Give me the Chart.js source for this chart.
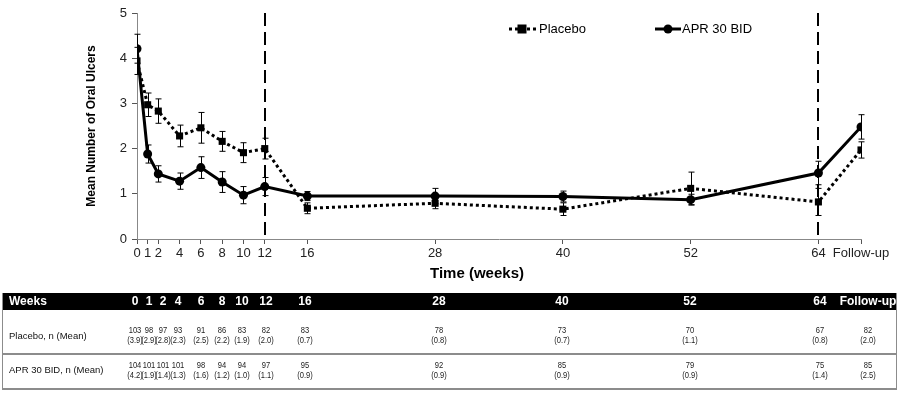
<!DOCTYPE html>
<html>
<head>
<meta charset="utf-8">
<script src="https://cdn.jsdelivr.net/npm/chart.js@4.4.1/dist/chart.umd.min.js"></script>
<style>
  html, body { margin: 0; padding: 0; background: #fff; }
  #wrap { width: 905px; height: 396px; }
</style>
</head>
<body>
<div id="wrap"><canvas id="c" width="905" height="396"></canvas></div>
<script>
'use strict';

// ── Data ───────────────────────────────────────────────────────
const WEEKS         = [0, 1, 2, 4, 6, 8, 10, 12, 16, 28, 40, 52, 64, 68];
const WEEK_LABELS   = ['0','1','2','4','6','8','10','12','16','28','40','52','64','Follow-up'];
const FOLLOW_UP_AT  = 68;
const PHASE_MARKS   = [12, 64];

const PLACEBO_MEAN  = [3.94, 2.97, 2.83, 2.28, 2.46, 2.16, 1.91, 2.00, 0.68, 0.79, 0.66, 1.12, 0.82, 1.97];
const PLACEBO_ERR   = [0.30, 0.26, 0.27, 0.24, 0.34, 0.22, 0.22, 0.23, 0.12, 0.12, 0.14, 0.36, 0.30, 0.18];
const APR_MEAN      = [4.21, 1.88, 1.44, 1.28, 1.58, 1.26, 0.97, 1.16, 0.95, 0.95, 0.94, 0.87, 1.46, 2.48];
const APR_ERR       = [0.32, 0.20, 0.18, 0.18, 0.24, 0.23, 0.19, 0.20, 0.10, 0.17, 0.12, 0.12, 0.26, 0.27];

const PLACEBO_N     = [103, 98, 97, 93, 91, 86, 83, 82, 83, 78, 73, 70, 67, 82];
const PLACEBO_TBL   = ['3.9','2.9','2.8','2.3','2.5','2.2','1.9','2.0','0.7','0.8','0.7','1.1','0.8','2.0'];
const APR_N         = [104, 101, 101, 101, 98, 94, 94, 97, 95, 92, 85, 79, 75, 85];
const APR_TBL       = ['4.2','1.9','1.4','1.3','1.6','1.2','1.0','1.1','0.9','0.9','0.9','0.9','1.4','2.5'];

const Y_TICKS       = [0, 1, 2, 3, 4, 5];

// table column centres (layout, px)
const TABLE_COL_X   = [135, 149, 163, 178, 201, 222, 242, 266, 305, 439, 562, 690, 820, 868];

const FONT = 'Arial, "Liberation Sans", sans-serif';

const toPoints = (ys) => ys.map((y, i) => ({ x: WEEKS[i], y }));

// narrow-looking text for the table cells
function narrowText(ctx, txt, x, y) {
  ctx.save();
  ctx.translate(x, y);
  ctx.scale(0.84, 1);
  ctx.fillText(txt, 0, 0);
  ctx.restore();
}

// ── Plugins ────────────────────────────────────────────────────
const phaseLines = {
  id: 'phaseLines',
  beforeDatasetsDraw(chart) {
    const { ctx, chartArea, scales: { x } } = chart;
    ctx.save();
    ctx.strokeStyle = '#000';
    ctx.lineWidth = 2;
    ctx.setLineDash([13, 6]);
    PHASE_MARKS.forEach(w => {
      const px = Math.round(x.getPixelForValue(w));
      ctx.beginPath();
      ctx.moveTo(px, chartArea.top);
      ctx.lineTo(px, chartArea.bottom);
      ctx.stroke();
    });
    ctx.restore();
  },
};

const errorBars = {
  id: 'errorBars',
  beforeDatasetsDraw(chart) {
    const { ctx, scales: { x, y } } = chart;
    ctx.save();
    ctx.strokeStyle = '#000';
    ctx.lineWidth = 1;
    ctx.setLineDash([]);
    chart.data.datasets.forEach(ds => {
      ds.data.forEach((p, i) => {
        const e = ds.errors[i];
        const px = Math.round(x.getPixelForValue(p.x)) + 0.5;
        const top = y.getPixelForValue(p.y + e);
        const bot = y.getPixelForValue(p.y - e);
        ctx.beginPath();
        ctx.moveTo(px, top); ctx.lineTo(px, bot);
        ctx.moveTo(px - 3, top); ctx.lineTo(px + 3, top);
        ctx.moveTo(px - 3, bot); ctx.lineTo(px + 3, bot);
        ctx.stroke();
      });
    });
    ctx.restore();
  },
};

const chartText = {
  id: 'chartText',
  afterDraw(chart) {
    const { ctx, chartArea } = chart;
    ctx.save();
    ctx.fillStyle = '#000';

    // axis titles
    ctx.font = `bold 15px ${FONT}`;
    ctx.textAlign = 'center';
    ctx.textBaseline = 'middle';
    ctx.fillText('Time (weeks)', 477, 274);

    ctx.save();
    ctx.translate(92, (chartArea.top + chartArea.bottom) / 2);
    ctx.rotate(-Math.PI / 2);
    ctx.font = `bold 12px ${FONT}`;
    ctx.fillText('Mean Number of Oral Ulcers', 0, 0);
    ctx.restore();

    // legend
    const ly = 29;
    ctx.lineWidth = 3;
    ctx.setLineDash([3, 3]);
    ctx.beginPath(); ctx.moveTo(509, ly); ctx.lineTo(536, ly); ctx.stroke();
    ctx.setLineDash([]);
    ctx.fillRect(522 - 4.5, ly - 4.5, 9, 9);
    ctx.beginPath(); ctx.moveTo(655, ly); ctx.lineTo(681, ly); ctx.stroke();
    ctx.beginPath(); ctx.arc(668, ly, 4.5, 0, Math.PI * 2); ctx.fill();
    ctx.font = `13px ${FONT}`;
    ctx.textAlign = 'left';
    ctx.fillText('Placebo', 539, ly);
    ctx.fillText('APR 30 BID', 682, ly);

    // table
    const L = 2, R = 897;
    ctx.fillRect(L, 293, R - L, 17);
    ctx.strokeStyle = '#8c8c8c';
    ctx.lineWidth = 2;
    ctx.beginPath();
    ctx.moveTo(L, 354); ctx.lineTo(R, 354);
    ctx.moveTo(L, 389); ctx.lineTo(R, 389);
    ctx.stroke();
    ctx.lineWidth = 1;
    ctx.beginPath();
    ctx.moveTo(L + 0.5, 293); ctx.lineTo(L + 0.5, 390);
    ctx.moveTo(R - 0.5, 293); ctx.lineTo(R - 0.5, 390);
    ctx.stroke();

    ctx.fillStyle = '#fff';
    ctx.font = `bold 12px ${FONT}`;
    ctx.fillText('Weeks', 9, 302);
    ctx.textAlign = 'center';
    WEEK_LABELS.forEach((lbl, i) => ctx.fillText(lbl, TABLE_COL_X[i], 302));

    ctx.fillStyle = '#111';
    ctx.textAlign = 'left';
    ctx.font = `9.5px ${FONT}`;
    ctx.fillText('Placebo, n (Mean)', 9, 336);
    ctx.fillText('APR 30 BID, n (Mean)', 9, 370);

    ctx.textAlign = 'center';
    ctx.fillStyle = '#222';
    ctx.font = `9px ${FONT}`;
    const rows = [[PLACEBO_N, PLACEBO_TBL, 331], [APR_N, APR_TBL, 366]];
    rows.forEach(([ns, ms, y0]) => {
      ns.forEach((n, i) => {
        narrowText(ctx, String(n), TABLE_COL_X[i], y0);
        narrowText(ctx, `(${ms[i]})`, TABLE_COL_X[i], y0 + 10);
      });
    });
    ctx.restore();
  },
};

// ── Chart ──────────────────────────────────────────────────────
new Chart(document.getElementById('c'), {
  type: 'line',
  data: {
    datasets: [
      {
        label: 'Placebo',
        data: toPoints(PLACEBO_MEAN),
        errors: PLACEBO_ERR,
        borderColor: '#000',
        borderWidth: 3,
        borderDash: [3, 3],
        pointStyle: 'rect',
        pointRadius: 5,
        pointBackgroundColor: '#000',
        pointBorderColor: '#000',
        pointBorderWidth: 0,
        tension: 0,
      },
      {
        label: 'APR 30 BID',
        data: toPoints(APR_MEAN),
        errors: APR_ERR,
        borderColor: '#000',
        borderWidth: 3,
        pointStyle: 'circle',
        pointRadius: 4.5,
        pointBackgroundColor: '#000',
        pointBorderColor: '#000',
        pointBorderWidth: 0,
        tension: 0,
      },
    ],
  },
  options: {
    responsive: false,
    animation: false,
    layout: { padding: { top: 13, right: 44, left: 0, bottom: 0 } },
    plugins: { legend: { display: false }, tooltip: { enabled: false } },
    scales: {
      x: {
        type: 'linear',
        min: 0, max: FOLLOW_UP_AT,
        afterBuildTicks: s => { s.ticks = WEEKS.map(v => ({ value: v })); },
        afterFit: s => { s.height = 396 - 239; },
        ticks: {
          autoSkip: false, maxRotation: 0, padding: 2,
          color: '#222', font: { family: FONT, size: 13 },
          callback: v => WEEK_LABELS[WEEKS.indexOf(v)],
        },
        grid: { drawOnChartArea: false, drawTicks: true, tickLength: 5, color: '#555' },
        border: { color: '#888', width: 1 },
      },
      y: {
        min: 0, max: 5,
        afterBuildTicks: s => { s.ticks = Y_TICKS.map(v => ({ value: v })); },
        afterFit: s => { s.width = 137; },
        ticks: { padding: 5, color: '#222', font: { family: FONT, size: 13 } },
        grid: { drawOnChartArea: false, drawTicks: true, tickLength: 5, color: '#555' },
        border: { color: '#888', width: 1 },
      },
    },
  },
  plugins: [phaseLines, errorBars, chartText],
});
</script>
</body>
</html>
